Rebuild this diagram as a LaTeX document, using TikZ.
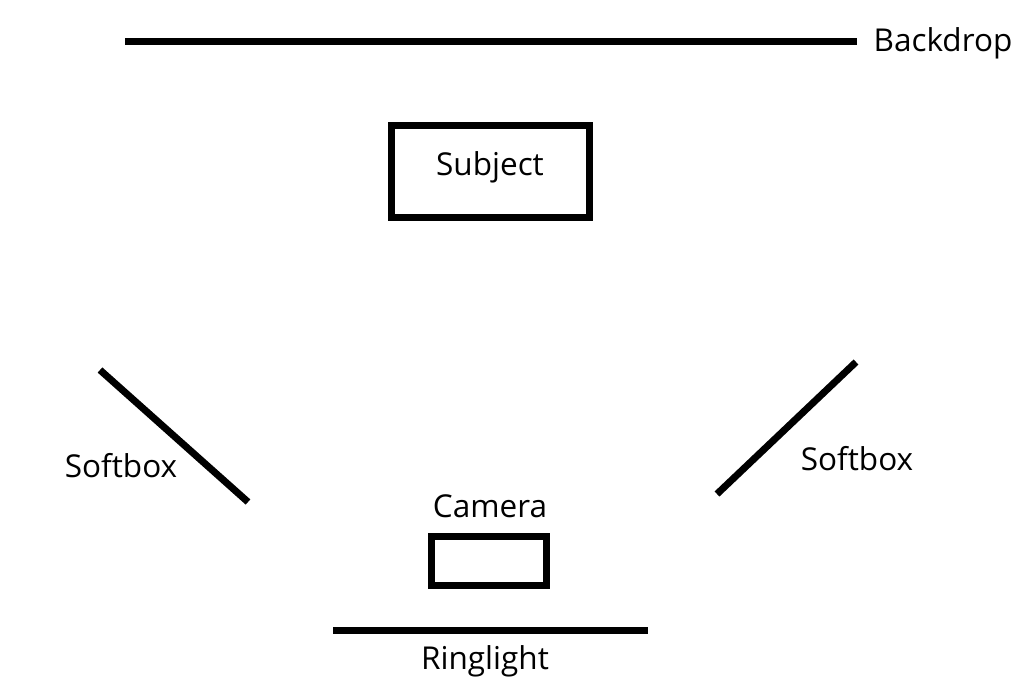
\documentclass[tikz,border=0pt]{standalone}
\usepackage{fontspec}
\setmainfont{Open Sans}
\begin{document}
\begin{tikzpicture}[x=1pt,y=-1pt,
  thick line/.style={line width=7pt, line cap=butt},
  box/.style={draw, line width=7pt, minimum width=198pt, minimum height=92pt, inner sep=0pt},
  lbl/.style={font=\fontsize{31.5}{36}\selectfont, inner sep=0pt, anchor=base}]
\useasboundingbox (0,0) rectangle (1024,688);
\fill[white] (0,0) rectangle (1024,688);
% backdrop
\coordinate (bd1) at (125,41);
\coordinate (bd2) at (857,41);
\draw[thick line] (bd1) -- (bd2);
\node[lbl] (backdrop) at (943,51) {Backdrop};
% subject
\node[box] (subject) at (490.5,171.5) {};
\node[lbl] (subjectlbl) at (490,175) {Subject};
% softboxes
\coordinate (sl1) at (100,370);
\coordinate (sl2) at (248,502);
\draw[thick line] (sl1) -- (sl2);
\node[lbl] (softl) at (121,477) {Softbox};
\coordinate (sr1) at (856,362);
\coordinate (sr2) at (717,494);
\draw[thick line] (sr1) -- (sr2);
\node[lbl] (softr) at (857,470) {Softbox};
% camera
\node[box, minimum width=115pt, minimum height=49pt] (camera) at (489,561) {};
\node[lbl] (cameralbl) at (490,517) {Camera};
% ringlight
\coordinate (rl1) at (333,630.5);
\coordinate (rl2) at (648,630.5);
\draw[thick line] (rl1) -- (rl2);
\node[lbl] (ringlight) at (485,669) {Ringlight};
\end{tikzpicture}
\end{document}
